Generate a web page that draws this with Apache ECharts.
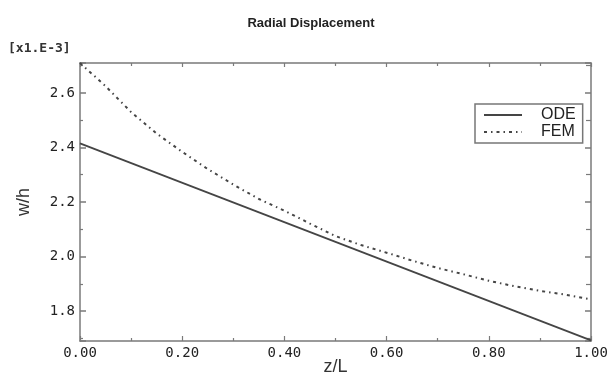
<!DOCTYPE html>
<html>
<head>
<meta charset="utf-8">
<script src="https://cdn.jsdelivr.net/npm/echarts@6/dist/echarts.min.js"></script>
<style>html,body{margin:0;padding:0;background:#fff;}#c{width:608px;height:378px;}</style>
</head>
<body>
<div id="c"></div>
<script>
// z/L positions
var zODE = [0.00, 1.00];
var odeValues = [2.415, 1.692];
var zFEM = [0.00, 0.05, 0.10, 0.15, 0.20, 0.25, 0.30, 0.35, 0.40, 0.45, 0.50, 0.55, 0.60, 0.65, 0.70, 0.75, 0.80, 0.85, 0.90, 0.95, 1.00];
var femValues = [2.710, 2.625, 2.530, 2.451, 2.384, 2.321, 2.264, 2.211, 2.168, 2.121, 2.075, 2.042, 2.014, 1.985, 1.958, 1.935, 1.911, 1.891, 1.874, 1.860, 1.843];
var seriesNames = ['ODE', 'FEM'];
var titleText = 'Radial Displacement';
var xName = 'z/L';
var yName = 'w/h';
var yScaleNote = '[x1.E-3]';

var chart = echarts.init(document.getElementById('c'), null, {renderer: 'canvas'});
var axisColor = '#7a7a7a';
var lineColor = '#454545';
var monoFont = 'DejaVu Sans Mono';

function pairs(xs, ys) { return xs.map(function (x, i) { return [x, ys[i]]; }); }

var option = {
  animation: false,
  backgroundColor: '#fff',
  title: {
    text: titleText, left: 306, top: 12, textAlign: 'center',
    textStyle: {fontFamily: 'Liberation Sans', fontSize: 13, fontWeight: 'bold', color: '#222'}
  },
  graphic: [{
    type: 'text', left: 8, top: 42,
    style: {text: yScaleNote, fontFamily: monoFont, fontSize: 13, fontWeight: 'bold', fill: '#333'}
  }],
  legend: {
    orient: 'vertical', left: 475, top: 104,
    padding: [3, 7, 3, 8], itemGap: 1,
    itemWidth: 38, itemHeight: 14,
    borderColor: '#777', borderWidth: 1.5,
    itemStyle: {opacity: 0},
    textStyle: {fontFamily: 'Liberation Sans', fontSize: 16, color: '#222', padding: [0, 0, 0, 14]},
    data: seriesNames
  },
  grid: {left: 80, right: 17, top: 63, bottom: 37, containLabel: false, outerBoundsMode: 'none'},
  xAxis: [{
    type: 'value', min: 0, max: 1, interval: 0.2,
    name: xName, nameLocation: 'middle', nameGap: 17, nameMoveOverlap: false,
    nameTextStyle: {fontFamily: 'Liberation Sans', fontSize: 18, color: '#333'},
    axisLine: {show: true, lineStyle: {color: axisColor, width: 1.5}},
    axisTick: {show: true, inside: true, length: 5, lineStyle: {color: axisColor, width: 1.2}},
    minorTick: {show: true, splitNumber: 2, length: 3, lineStyle: {color: axisColor, width: 1.2}},
    axisLabel: {fontFamily: monoFont, fontSize: 14, color: '#222', margin: 5,
      formatter: function (v) { return v.toFixed(2); }},
    splitLine: {show: false}
  }, {
    type: 'value', min: 0, max: 1, interval: 0.2, position: 'top',
    axisLine: {show: true, onZero: false, lineStyle: {color: axisColor, width: 1.5}},
    axisTick: {show: true, inside: true, length: 4, lineStyle: {color: axisColor, width: 1.2}},
    minorTick: {show: true, splitNumber: 2, length: 3, lineStyle: {color: axisColor, width: 1.2}},
    axisLabel: {show: false}, splitLine: {show: false}
  }],
  yAxis: [{
    type: 'value', min: 1.69, max: 2.71, splitNumber: 5,
    name: yName, nameLocation: 'middle', nameGap: 47,
    nameTextStyle: {fontFamily: 'Liberation Sans', fontSize: 18, color: '#333'},
    axisLine: {show: true, onZero: false, lineStyle: {color: axisColor, width: 1.5}},
    axisTick: {show: true, inside: true, length: 6, lineStyle: {color: axisColor, width: 1.5}},
    minorTick: {show: true, splitNumber: 2, length: 3, lineStyle: {color: axisColor, width: 1.2}},
    axisLabel: {fontFamily: monoFont, fontSize: 14, color: '#222', margin: 5,
      showMinLabel: false, showMaxLabel: false,
      formatter: function (v) { return v.toFixed(1); }},
    splitLine: {show: false}
  }, {
    type: 'value', min: 1.69, max: 2.71, splitNumber: 5, position: 'right',
    axisLine: {show: true, onZero: false, lineStyle: {color: axisColor, width: 1.5}},
    axisTick: {show: true, inside: true, length: 6, lineStyle: {color: axisColor, width: 1.5}},
    minorTick: {show: true, splitNumber: 2, length: 5, lineStyle: {color: axisColor, width: 1.2}},
    axisLabel: {show: false}, splitLine: {show: false}
  }],
  series: [{
    name: seriesNames[0], type: 'line', xAxisIndex: 0, yAxisIndex: 0,
    data: pairs(zODE, odeValues), showSymbol: false, symbol: 'none',
    lineStyle: {color: lineColor, width: 1.8, type: 'solid'},
    itemStyle: {color: lineColor}
  }, {
    name: seriesNames[1], type: 'line', xAxisIndex: 0, yAxisIndex: 0,
    data: pairs(zFEM, femValues), showSymbol: false, symbol: 'none',
    lineStyle: {color: lineColor, width: 2, type: [3, 4, 1.5, 4]},
    itemStyle: {color: lineColor}
  }]
};
chart.setOption(option);
</script>
</body>
</html>
